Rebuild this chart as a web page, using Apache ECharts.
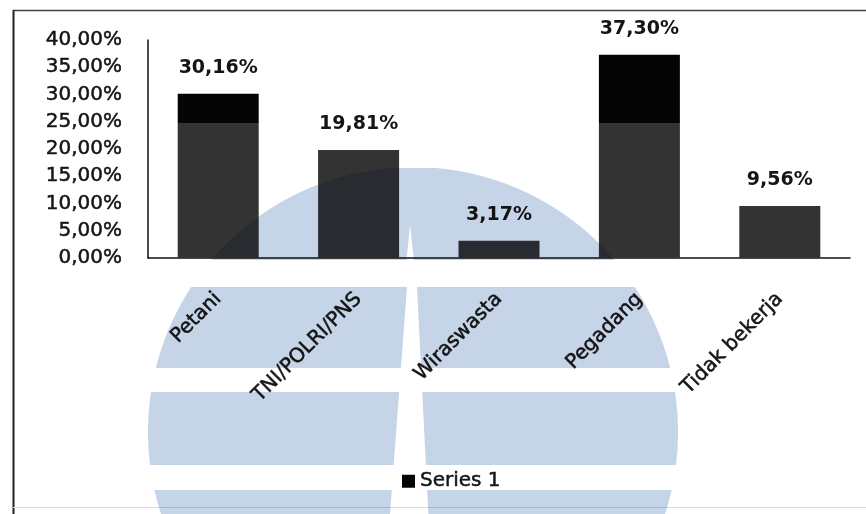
<!DOCTYPE html>
<html>
<head>
<meta charset="utf-8">
<script src="https://cdn.jsdelivr.net/npm/echarts@6/dist/echarts.min.js"></script>
<style>
html,body{margin:0;padding:0;background:#fff;}
#chart{width:866px;height:514px;}
</style>
</head>
<body>
<div id="chart"></div>
<script>
// ---- data ----
var categories = ['Petani', 'TNI/POLRI/PNS', 'Wiraswasta', 'Pegadang', 'Tidak bekerja'];
var values = [30.16, 19.81, 3.17, 37.30, 9.56];
var seriesName = 'Series 1';
var yMin = 0, yMax = 40, yStep = 5;

function pct(v) { return v.toFixed(2).replace('.', ',') + '%'; }

// ---- watermark (decoration) ----
var wm = { cx: 413, cy: 432, r: 265 };
function gapL(y) { return y < 225 ? 410 : (y < 287 ? 410 - (y - 225) * 0.1 : 407 - (y - 287) * 0.075); }
function gapR(y) { return y < 225 ? 410 : (y < 287 ? 410 + (y - 225) * 0.11 : 417 + (y - 287) * 0.05); }
function piece(y1, y2, side) {
  var left = [], right = [];
  for (var y = y1; y <= y2; y += 1) {
    var d = wm.r * wm.r - (y - wm.cy) * (y - wm.cy);
    if (d < 0) continue;
    var h = Math.sqrt(d);
    var a, b;
    if (side === 'L') { a = wm.cx - h; b = Math.min(wm.cx + h, gapL(y)); }
    else { a = Math.max(wm.cx - h, gapR(y)); b = wm.cx + h; }
    if (b <= a) continue;
    left.push([a, y]); right.push([b, y]);
  }
  return left.concat(right.reverse());
}
var bands = [[167, 260], [287, 368], [392, 465], [490, 514]];
var wmEls = [];
bands.forEach(function (bd) {
  ['L', 'R'].forEach(function (s) {
    var pts = piece(bd[0], bd[1], s);
    if (pts.length > 2) {
      wmEls.push({
        type: 'polygon', silent: true, z: 100,
        shape: { points: pts },
        style: { fill: '#c6d4e7', blend: 'multiply' }
      });
    }
  });
});

var chart = echarts.init(document.getElementById('chart'), null, { renderer: 'canvas' });
var font = 'DejaVu Sans';
var txt = '#151515';
chart.setOption({
  backgroundColor: '#ffffff',
  animation: false,
  grid: { left: 148, right: 16, top: 40, bottom: 256, containLabel: false },
  legend: {
    data: [seriesName], left: 397, top: 466,
    icon: 'rect', itemWidth: 13, itemHeight: 13, itemGap: 6,
    textStyle: { fontFamily: font, fontSize: 20, color: txt, textBorderColor: txt, textBorderWidth: 0.5, padding: [0, 0, 0, 0] }
  },
  xAxis: {
    type: 'category', data: categories,
    axisLine: { lineStyle: { color: '#111', width: 1.5 } },
    axisTick: { show: false },
    axisLabel: { rotate: 45, margin: 38, interval: 0, fontFamily: font, fontSize: 20, color: txt, textBorderColor: txt, textBorderWidth: 0.5 }
  },
  yAxis: {
    type: 'value', min: yMin, max: yMax, interval: yStep,
    splitLine: { show: false },
    axisLine: { show: true, lineStyle: { color: '#111', width: 1.5 } },
    axisTick: { show: false },
    axisLabel: { margin: 26, fontFamily: font, fontSize: 20, color: txt, textBorderColor: txt, textBorderWidth: 0.5, formatter: pct }
  },
  series: [{
    name: seriesName, type: 'bar', data: values, barWidth: 81,
    itemStyle: {
      color: {
        type: 'linear', x: 0, y: 0, x2: 0, y2: 514, global: true,
        colorStops: [
          { offset: 0, color: '#050505' }, { offset: 123 / 514, color: '#050505' },
          { offset: 123 / 514, color: '#333333' }, { offset: 1, color: '#333333' }
        ]
      }
    },
    label: {
      show: true, position: 'top', distance: 16,
      fontFamily: font, fontSize: 19, fontWeight: 'bold', color: txt,
      formatter: function (p) { return pct(p.value); }
    }
  }],
  graphic: [
    { type: 'line', silent: true, shape: { x1: 13, y1: 10.5, x2: 866, y2: 10.5 }, style: { stroke: '#444', lineWidth: 1.5 } },
    { type: 'line', silent: true, shape: { x1: 13.5, y1: 10, x2: 13.5, y2: 514 }, style: { stroke: '#222', lineWidth: 2 } },
    { type: 'line', silent: true, shape: { x1: 13, y1: 507.5, x2: 866, y2: 507.5 }, style: { stroke: '#dcdcdc', lineWidth: 1 } }
  ].concat(wmEls)
});
</script>
</body>
</html>
